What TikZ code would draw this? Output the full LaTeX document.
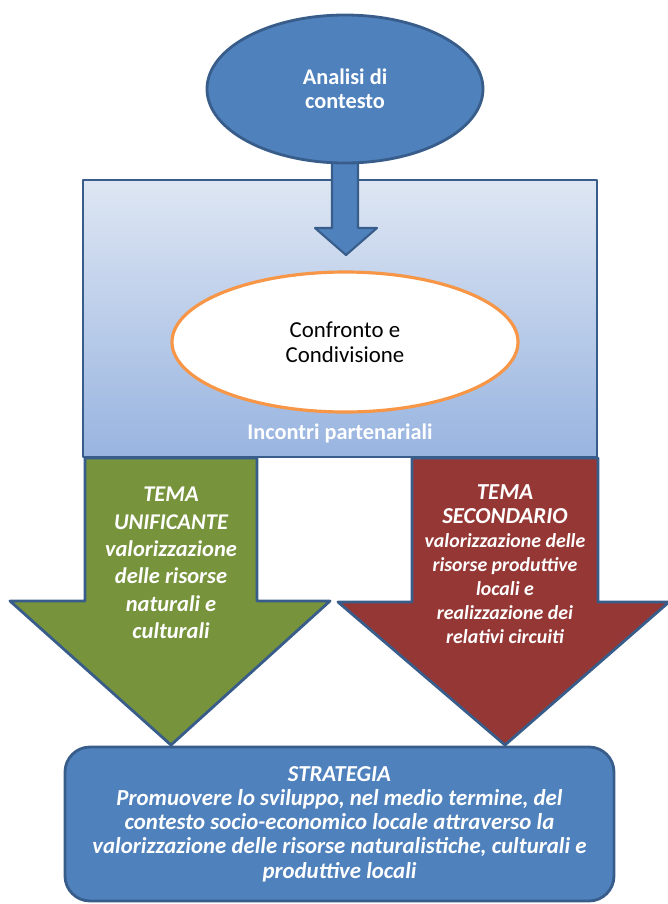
\documentclass[tikz,border=0pt]{standalone}
\usepackage{fontspec}
\setmainfont{Carlito}
\usetikzlibrary{positioning,shapes.geometric}

\newcommand{\bigtema}{\fontsize{13}{15.6}\selectfont}

\begin{document}
\begin{tikzpicture}[
        x=0.2mm,y=-0.2mm,
        line join=round
    ]
        \definecolor{blf}{RGB}{79,129,189}
        \definecolor{bld}{RGB}{56,93,138}
        \definecolor{grf}{RGB}{119,147,60}
        \definecolor{ref}{RGB}{149,55,53}
        \definecolor{orl}{RGB}{247,150,70}
        \definecolor{bxt}{RGB}{222,230,243}
        \definecolor{bxb}{RGB}{152,180,224}

        \useasboundingbox (0,0) rectangle (667,904);

        % riquadro incontri
        \node (inc) at (340,318.5) [draw=bld,line width=1.6pt,top color=bxt,bottom color=bxb,
            minimum width=102.8mm,minimum height=55.4mm] {};
        \node (inctxt) at (340,433) [text=white,font=\bfseries\fontsize{12.7}{14}\selectfont] {Incontri partenariali};

        % freccia piccola
        \draw [draw=bld,fill=blf,line width=1.2pt]
            (332,150) -- (358,150) -- (358,228) -- (377,228) -- (346,255) -- (315,228) -- (332,228) -- cycle;

        \node (ana) at (345,89) [ellipse,draw=bld,fill=blf,line width=1.6pt,
            minimum width=55.2mm,minimum height=29.6mm,align=center,
            text=white,font=\bfseries\fontsize{12.7}{13.6}\selectfont] {Analisi di\\contesto};

        \node (conf) at (345,342) [ellipse,draw=orl,fill=white,line width=1.8pt,
            minimum width=69.2mm,minimum height=28mm,align=center,
            font=\fontsize{13}{14.2}\selectfont] {Confronto e\\Condivisione};

        % temi
        \draw [draw=bld,fill=grf,line width=1.6pt]
            (85,458) -- (257,458) -- (257,601) -- (330,601) -- (171,745) -- (10,601) -- (85,601) -- cycle;
        \draw [draw=bld,fill=ref,line width=1.6pt]
            (412,458) -- (598,458) -- (598,602) -- (669,602) -- (505,745) -- (338,602) -- (412,602) -- cycle;

        \node (uni) at (171,563) [text=white,align=center,font=\bfseries\itshape\fontsize{12.8}{15.6}\selectfont]
            {TEMA\\UNIFICANTE\\valorizzazione\\delle risorse\\naturali e\\culturali};
        \node (sec) at (505,564) [text=white,align=center,font=\bfseries\itshape\fontsize{11.3}{13.6}\selectfont]
            {\bigtema TEMA\\\bigtema SECONDARIO\\valorizzazione delle\\risorse produttive\\locali e\\realizzazione dei\\relativi circuiti};

        % strategia
        \node (str) at (339.5,824) [draw=bld,fill=blf,line width=1.6pt,rounded corners=5mm,
            minimum width=109.8mm,minimum height=30.8mm,align=center,
            text=white,font=\bfseries\itshape\fontsize{13}{13.8}\selectfont]
            {STRATEGIA\\Promuovere lo sviluppo, nel medio termine, del\\contesto socio-economico locale attraverso la\\valorizzazione delle risorse naturalistiche, culturali e\\produttive locali};
    \end{tikzpicture}
\end{document}
